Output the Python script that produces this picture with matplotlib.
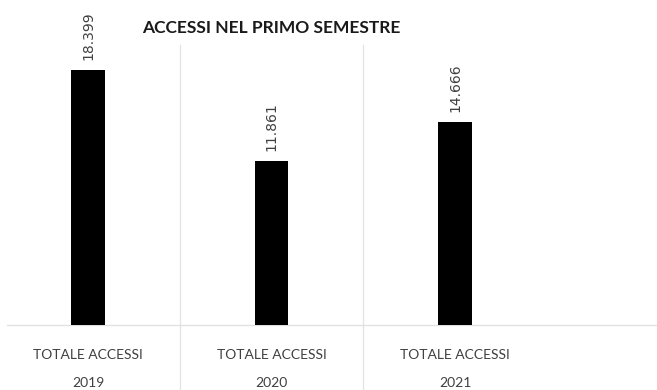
import matplotlib.pyplot as plt

# access counts for the first semester
years = ["2019", "2020", "2021"]
accessi = [18399, 11861, 14666]
value_labels = ["18.399", "11.861", "14.666"]
cat_label = "TOTALE ACCESSI"

plt.rcParams['font.family'] = ['Lato', 'DejaVu Sans']

fig = plt.figure(figsize=(6.57, 3.90), dpi=100)
ax = fig.add_axes([7 / 657, 65 / 390, 650 / 657, 280 / 390])

x = list(range(len(years)))
ax.bar(x, accessi, width=0.185, color='black', zorder=3)

for xi, v, lab in zip(x, accessi, value_labels):
    ax.text(xi, v + 700, lab, rotation=90, ha='center', va='bottom',
            fontsize=10, color='#404040', family='DejaVu Sans')

# category separators run down through the label area
for sep in [0.5, 1.5]:
    ax.axvline(sep, ymin=-0.25, ymax=1, color='#e3e3e3', linewidth=0.9,
               clip_on=False, zorder=1)

ax.set_xlim(-0.441, 3.10)
ax.set_ylim(0, 20200)

ax.set_xticks(x)
ax.set_xticklabels([cat_label + "\n" + y for y in years], fontsize=10,
                   color='#404040', linespacing=2.6, va='top')
ax.tick_params(axis='x', length=0, pad=17)
ax.set_yticks([])

for s in ['top', 'right', 'left']:
    ax.spines[s].set_visible(False)
ax.spines['bottom'].set_color('#e0e0e0')
ax.spines['bottom'].set_linewidth(0.9)

fig.text(271 / 657, 1 - 28 / 390, "ACCESSI NEL PRIMO SEMESTRE", ha='center',
         va='center', fontsize=12.5, fontweight='bold', color='#1a1a1a')

fig.savefig("out.png", dpi=100)
